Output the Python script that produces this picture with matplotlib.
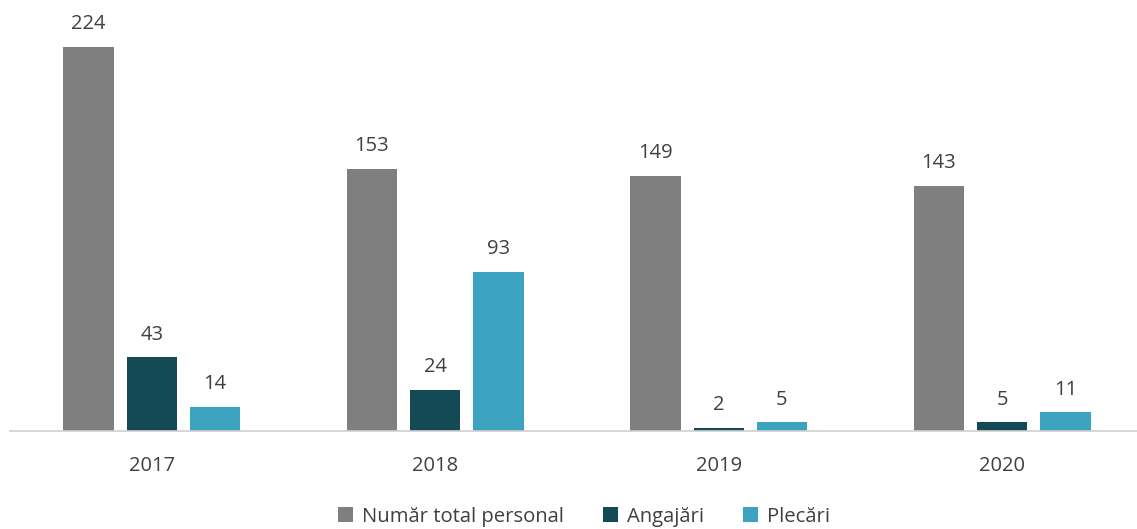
import matplotlib

matplotlib.use("Agg")
import matplotlib.pyplot as plt
import numpy as np

years = ["2017", "2018", "2019", "2020"]
total_staff = [224, 153, 149, 143]
hires = [43, 24, 2, 5]
departures = [14, 93, 5, 11]

series = [
    ("Număr total personal", total_staff, "#7f7f7f"),
    ("Angajări", hires, "#134a55"),
    ("Plecări", departures, "#3ba3bf"),
]

plt.rcParams["font.family"] = ["Open Sans", "DejaVu Sans"]
text_color = "#404040"

fig = plt.figure(figsize=(11.37, 5.29), dpi=100)
ax = fig.add_axes([10 / 1137, 98 / 529, 1134 / 1137, 431 / 529])

x = np.arange(len(years))
width = 0.177
offset = 0.223
for i, (label, values, color) in enumerate(series):
    pos = x + (i - 1) * offset
    bars = ax.bar(pos, values, width=width, color=color, label=label)
    ax.bar_label(bars, labels=[str(v) for v in values], padding=9,
                 fontsize=14.5, color=text_color)

ax.set_xlim(-0.5, 3.5)
ax.set_ylim(0, 251.4)
ax.set_yticks([])
ax.set_xticks(x)
ax.set_xticklabels(years, fontsize=14.5, color=text_color)
ax.tick_params(axis="x", length=0, pad=18)
for side in ["top", "right", "left"]:
    ax.spines[side].set_visible(False)
ax.spines["bottom"].set_color("#d0d0d0")
ax.spines["bottom"].set_linewidth(1.2)

ax.legend(loc="lower center", bbox_to_anchor=(574 / 1134, -0.265),
          ncol=3, frameon=False, fontsize=14.6, handlelength=0.75,
          handleheight=0.75, handletextpad=0.45, columnspacing=1.9,
          labelcolor=text_color)

fig.savefig("out.png", dpi=100)
